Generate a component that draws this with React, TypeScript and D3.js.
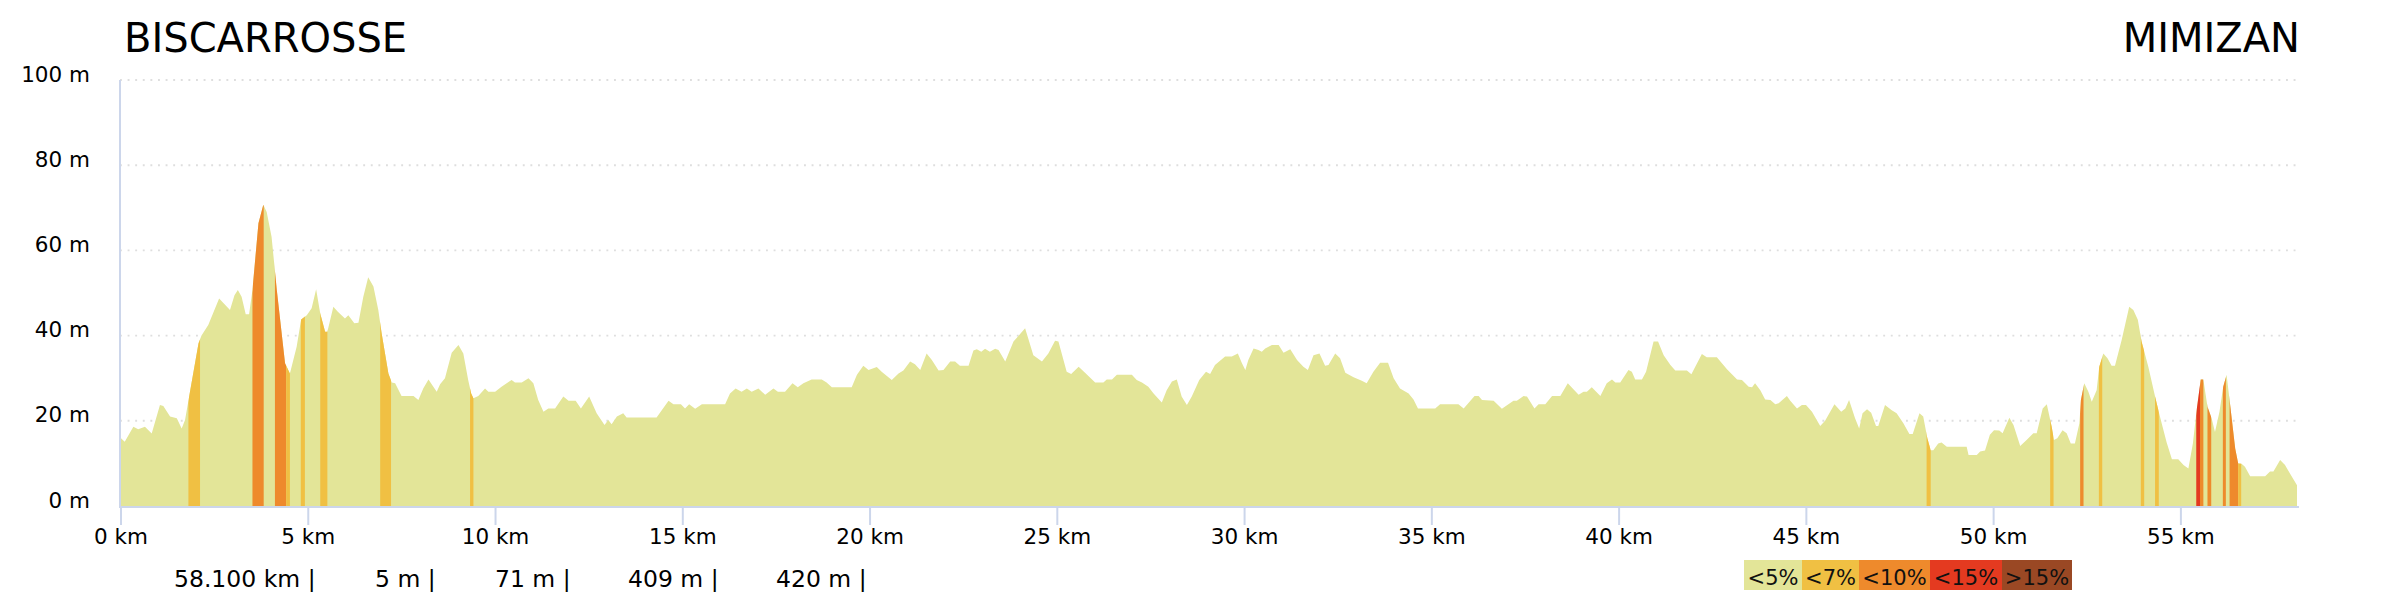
import * as d3 from 'd3';

// profile: distance (km) / elevation (m)
const distKm = [
  0, 0.1, 0.33, 0.46, 0.64, 0.82, 1.04, 1.13, 1.31, 1.49, 1.62, 1.71, 1.82, 2.07, 2.15, 2.33, 2.62, 2.91, 3.03, 3.12,
  3.22, 3.33, 3.42, 3.51, 3.67, 3.8, 3.89, 4.02, 4.16, 4.38, 4.51, 4.69, 4.81, 4.96, 5.09, 5.21, 5.32, 5.45, 5.51, 5.67,
  5.79, 5.98, 6.07, 6.23, 6.34, 6.47, 6.6, 6.74, 6.87, 6.96, 7.14, 7.23, 7.32, 7.49, 7.81, 7.94, 8.07, 8.21, 8.34, 8.43,
  8.52, 8.65, 8.83, 9.01, 9.14, 9.27, 9.35, 9.41, 9.54, 9.72, 9.81, 9.99, 10.16, 10.43, 10.52, 10.7, 10.88, 11.01, 11.14, 11.28,
  11.41, 11.59, 11.81, 11.95, 12.14, 12.28, 12.5, 12.7, 12.91, 13.01, 13.1, 13.24, 13.41, 13.5, 14.3, 14.62, 14.75, 14.95, 15.06, 15.17,
  15.33, 15.51, 16.13, 16.26, 16.41, 16.57, 16.71, 16.84, 17.02, 17.2, 17.42, 17.54, 17.73, 17.93, 18.07, 18.22, 18.44, 18.71, 18.84, 18.98,
  19.51, 19.65, 19.82, 19.96, 20.18, 20.31, 20.58, 20.76, 20.89, 21.07, 21.2, 21.34, 21.51, 21.65, 21.83, 21.96, 22.14, 22.27, 22.4, 22.63,
  22.76, 22.85, 22.97, 23.07, 23.2, 23.34, 23.43, 23.61, 23.83, 23.96, 24.14, 24.36, 24.59, 24.76, 24.94, 25.03, 25.25, 25.37, 25.57, 25.74,
  26.01, 26.23, 26.32, 26.46, 26.59, 26.99, 27.12, 27.26, 27.43, 27.57, 27.79, 27.92, 28.06, 28.19, 28.32, 28.46, 28.59, 28.79, 28.97, 29.08,
  29.21, 29.48, 29.66, 29.82, 29.93, 30.02, 30.1, 30.24, 30.37, 30.46, 30.55, 30.73, 30.91, 31.04, 31.22, 31.4, 31.57, 31.69, 31.84, 32,
  32.15, 32.24, 32.42, 32.55, 32.69, 32.91, 33.13, 33.26, 33.44, 33.62, 33.83, 33.98, 34.15, 34.38, 34.51, 34.63, 35.09, 35.22, 35.71, 35.85,
  36.14, 36.25, 36.34, 36.65, 36.87, 37.18, 37.27, 37.45, 37.54, 37.74, 37.85, 38.03, 38.21, 38.43, 38.63, 38.78, 38.92, 39.05, 39.14, 39.27,
  39.5, 39.67, 39.81, 39.9, 40.03, 40.25, 40.34, 40.43, 40.61, 40.72, 40.92, 41.04, 41.19, 41.37, 41.5, 41.81, 41.93, 42.21, 42.34, 42.61,
  42.88, 43.15, 43.28, 43.46, 43.55, 43.63, 43.77, 43.9, 44.04, 44.17, 44.26, 44.48, 44.57, 44.75, 44.88, 44.99, 45.15, 45.37, 45.5, 45.75,
  45.93, 46.04, 46.14, 46.3, 46.41, 46.5, 46.62, 46.73, 46.86, 46.92, 47.1, 47.28, 47.41, 47.59, 47.75, 47.84, 48.02, 48.12, 48.23, 48.32,
  48.39, 48.52, 48.61, 48.75, 49.28, 49.33, 49.55, 49.64, 49.77, 49.9, 50.01, 50.15, 50.24, 50.42, 50.53, 50.71, 50.88, 51.06, 51.15, 51.31,
  51.42, 51.55, 51.61, 51.7, 51.84, 51.95, 52.06, 52.17, 52.29, 52.33, 52.42, 52.53, 52.62, 52.75, 52.82, 52.93, 53.04, 53.15, 53.24, 53.42,
  53.62, 53.73, 53.85, 53.95, 54.13, 54.31, 54.44, 54.62, 54.76, 54.93, 55.07, 55.2, 55.32, 55.42, 55.53, 55.6, 55.71, 55.82, 55.91, 56.03,
  56.13, 56.22, 56.31, 56.45, 56.53, 56.62, 56.71, 56.85, 57.25, 57.38, 57.47, 57.65, 57.78, 57.92, 58.1
];
const elevM = [
  15.9, 15.1, 18.6, 18, 18.6, 17, 23.7, 23.5, 21, 20.6, 18.2, 20.2, 25.7, 38.2, 40, 42.5, 48.7, 46, 49.5, 50.7,
  49.1, 45, 45, 50.7, 66.4, 70.7, 69, 63.2, 50.7, 33.5, 31.1, 37.4, 43.8, 44.8, 46.4, 50.9, 45.2, 40.9, 40.9, 46.8,
  45.6, 44, 44.8, 42.9, 43, 49.1, 53.7, 51.5, 46, 40.5, 31.1, 29, 28.8, 25.8, 25.8, 24.9, 27.6, 29.7, 28, 26.8,
  28.6, 30, 36, 37.8, 35.8, 29.6, 26.4, 25.3, 25.8, 27.6, 26.8, 26.8, 28, 29.6, 29, 29, 30, 28.8, 24.9, 22.1,
  22.9, 22.9, 25.7, 24.7, 24.7, 22.9, 25.7, 21.8, 19, 20.2, 19.2, 21, 21.8, 20.8, 20.8, 24.7, 23.9, 23.9, 22.9, 23.9,
  22.8, 23.9, 23.9, 26.4, 27.6, 26.8, 27.6, 26.8, 27.6, 26.1, 27.6, 26.8, 26.8, 28.8, 27.9, 28.8, 29.7, 29.7, 29, 27.9,
  27.9, 30.8, 32.9, 31.9, 32.6, 31.5, 29.6, 31.1, 31.8, 33.9, 33.3, 31.9, 35.8, 34.3, 31.8, 31.9, 33.9, 33.9, 32.9, 32.9,
  36.5, 36.8, 36.2, 36.9, 36.2, 36.9, 36.6, 33.9, 38.6, 39.9, 41.7, 35.4, 33.9, 35.8, 38.8, 38.6, 31.5, 31, 32.7, 31.3,
  29, 29, 29.7, 29.7, 30.8, 30.8, 29.6, 29, 28, 26.4, 24.3, 27.2, 29.2, 29.7, 25.7, 23.7, 25.7, 29.6, 31.5, 31,
  33.1, 35.1, 35.1, 35.8, 33.5, 31.9, 34.3, 37, 36.6, 36.2, 37, 37.8, 37.8, 36, 36.8, 34.3, 32.7, 31.9, 35.4, 35.8,
  32.9, 33.1, 35.8, 34.7, 31.3, 30.2, 29.4, 28.8, 31.5, 33.6, 33.6, 30, 27.6, 26.4, 25, 22.9, 22.9, 23.9, 23.9, 22.9,
  25.8, 25.8, 24.9, 24.7, 22.8, 24.7, 24.7, 25.8, 25.7, 22.9, 23.9, 23.9, 25.8, 25.8, 28.8, 27.4, 26.1, 26.8, 26.8, 27.9,
  25.8, 28.8, 29.7, 29, 29, 31.9, 31.5, 29.7, 29.7, 31.5, 38.6, 38.6, 35.4, 33.1, 31.8, 31.8, 30.9, 35.7, 34.9, 34.9,
  32.1, 29.7, 29.6, 28, 27.9, 28.8, 27.2, 25, 24.9, 23.9, 24.1, 25.8, 24.7, 22.9, 23.7, 23.7, 22.1, 18.8, 20, 23.9,
  22.1, 22.9, 24.9, 20.6, 18.2, 21.8, 22.7, 21.9, 18.8, 18.8, 23.7, 22.5, 21.8, 19.4, 16.9, 16.9, 21.8, 21, 15.9, 13.1,
  13.1, 14.7, 14.9, 13.9, 13.9, 12, 12, 12.8, 13, 16.7, 17.8, 17.7, 17.1, 20.7, 19, 14.1, 15.5, 17.1, 17.1, 22.9,
  23.9, 18.6, 15.5, 15.9, 17.8, 17.1, 14.7, 14.7, 19.4, 24.9, 28.8, 26.8, 24.5, 27.2, 32.7, 35.8, 34.7, 32.9, 32.9, 39,
  46.8, 46, 43.7, 38.6, 32.7, 25.7, 21, 14.9, 11, 11, 9.6, 8.8, 14.7, 22.5, 29.7, 29.7, 23.3, 20.6, 17.4, 22.1,
  28, 30.8, 24.1, 13.5, 10, 9.9, 9.2, 7, 7, 8.1, 8.1, 10.8, 9.6, 7.5, 4.9
];

// steep stretches: start km, end km, gradient class (index in legend)
const bandStart = [1.8, 3.51, 4.11, 4.41, 4.8, 5.32, 6.92, 9.32, 48.21, 51.51, 52.31, 52.81, 53.93, 54.31, 55.41, 55.51, 55.71, 56.12, 56.3, 56.53];
const bandEnd = [2.11, 3.81, 4.41, 4.51, 4.91, 5.51, 7.21, 9.41, 48.32, 51.6, 52.4, 52.9, 54.02, 54.41, 55.51, 55.6, 55.81, 56.2, 56.53, 56.61];
const bandClass = [1, 2, 2, 1, 1, 1, 1, 1, 1, 1, 2, 1, 1, 1, 3, 2, 2, 2, 2, 1];

const legendLabels = ['<5%', '<7%', '<10%', '<15%', '>15%'];
const legendColors = ['#e3e598', '#f0c043', '#ee8a2c', '#e43a20', '#9a4824'];

const xTicks = [0, 5, 10, 15, 20, 25, 30, 35, 40, 45, 50, 55];
const yTicks = [0, 20, 40, 60, 80, 100];

const startName = 'BISCARROSSE';
const endName = 'MIMIZAN';
const stats = ['58.100 km |', '5 m |', '71 m |', '409 m |', '420 m |'];

const W = 2400;
const H = 600;
const FONT = '"DejaVu Sans", Verdana, sans-serif';
const AXIS = '#ccd6eb';
const statX = [174, 375, 495, 628, 776];
const legendW = [58, 57, 71, 72, 70];

export default function App() {
  const x = d3.scaleLinear().domain([0, 58.1]).range([121, 2297]);
  const y = d3.scaleLinear().domain([0, 100]).range([506, 80]);

  const pts = distKm.map((d, i) => [d, elevM[i]] as [number, number]);
  const area = d3.area<[number, number]>()
    .x(d => x(d[0]))
    .y0(y(0))
    .y1(d => y(d[1]))
    .curve(d3.curveLinear);
  const areaPath = area(pts) || '';

  let lx = 1744;
  const legendCells = legendLabels.map((l, i) => {
    const cell = { x: lx, w: legendW[i], label: l, color: legendColors[i] };
    lx += legendW[i];
    return cell;
  });

  return (
    <svg width={W} height={H} viewBox={`0 0 ${W} ${H}`}
      style={{ position: 'absolute', left: 0, top: 0, background: '#fff', fontFamily: FONT }}>
      <rect x={0} y={0} width={W} height={H} fill="#fff" />
      <defs>
        {bandStart.map((s, i) => (
          <clipPath id={`band-${i}`} key={i}>
            <rect x={x(s)} y={0} width={x(bandEnd[i]) - x(s)} height={H} />
          </clipPath>
        ))}
      </defs>

      {/* gridlines */}
      {yTicks.filter(t => t > 0).map(t => (
        <line key={t} x1={120} x2={2297} y1={y(t)} y2={y(t)}
          stroke="#dedede" strokeWidth={1.9} strokeDasharray="1.9 5.7" />
      ))}

      {/* profile */}
      <path d={areaPath} fill={legendColors[0]} />
      {bandStart.map((s, i) => (
        <path key={i} d={areaPath} fill={legendColors[bandClass[i]]} clipPath={`url(#band-${i})`} />
      ))}

      {/* axes */}
      <line x1={120} x2={120} y1={80} y2={507} stroke={AXIS} strokeWidth={2} />
      <line x1={119} x2={2299} y1={507} y2={507} stroke={AXIS} strokeWidth={2} />
      {xTicks.map(t => (
        <g key={t}>
          <line x1={x(t)} x2={x(t)} y1={507} y2={525} stroke={AXIS} strokeWidth={2} />
          <text x={x(t)} y={544} textAnchor="middle" fontSize={21.5} fill="#000">{`${t} km`}</text>
        </g>
      ))}
      {yTicks.map(t => (
        <text key={t} x={90} y={y(t) + 1.5} textAnchor="end" fontSize={21.5} fill="#000">{`${t} m`}</text>
      ))}

      {/* titles */}
      <text x={124} y={52} fontSize={40} fill="#000">{startName}</text>
      <text x={2300} y={52} fontSize={40} fill="#000" textAnchor="end">{endName}</text>

      {/* stats */}
      {stats.map((s, i) => (
        <text key={i} x={statX[i]} y={587} fontSize={23.5} fill="#000" style={{ whiteSpace: 'pre' }}>{s}</text>
      ))}

      {/* legend */}
      {legendCells.map((c, i) => (
        <g key={i}>
          <rect x={c.x} y={560} width={c.w} height={30} fill={c.color} />
          <text x={c.x + c.w / 2} y={585} textAnchor="middle" fontSize={21} fill="#111">{c.label}</text>
        </g>
      ))}
    </svg>
  );
}
